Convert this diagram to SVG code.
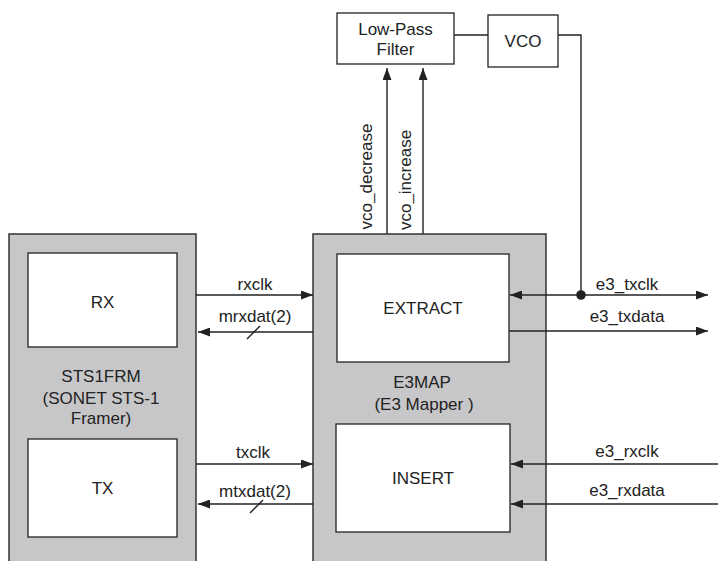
<svg xmlns="http://www.w3.org/2000/svg" width="718" height="561" viewBox="0 0 718 561">
<style>
.bg{fill:#ffffff}
.outer{fill:#c7c7c9;stroke:#333;stroke-width:1.5}
.inner{fill:#ffffff;stroke:#222;stroke-width:1.3}
.box{fill:#ffffff;stroke:#222;stroke-width:1.3}
.ln{fill:none;stroke:#222;stroke-width:1.4}
.arr{fill:none;stroke:#222;stroke-width:1.4;marker-end:url(#ah)}
.arr2{fill:none;stroke:#222;stroke-width:1.4;marker-end:url(#ah);marker-start:url(#ah)}
text{font-family:"Liberation Sans",Arial,Helvetica,sans-serif;font-size:17px;fill:#222;text-anchor:middle}
</style>
<defs>
<marker id="ah" viewBox="0 0 12 9" refX="12" refY="4.5" markerWidth="12" markerHeight="9" markerUnits="userSpaceOnUse" orient="auto-start-reverse">
<path d="M0,0 L12,4.5 L0,9 z" fill="#222"/>
</marker>
</defs>
<rect class="bg" x="0" y="0" width="718" height="561"/>

<g id="lpf">
<rect class="box" x="337" y="13" width="117" height="51"/>
<text x="395.5" y="35">Low-Pass</text>
<text x="395.5" y="55">Filter</text>
</g>

<g id="vco">
<rect class="box" x="488" y="15" width="70" height="52"/>
<text x="523" y="47">VCO</text>
</g>

<g id="sts1frm">
<rect class="outer" x="9" y="234" width="187" height="340"/>
<text x="101" y="382">STS1FRM</text>
<text x="101" y="404">(SONET STS-1</text>
<text x="101" y="424">Framer)</text>
</g>

<g id="rx">
<rect class="inner" x="28" y="253" width="149" height="94"/>
<text x="102.5" y="308">RX</text>
</g>

<g id="tx">
<rect class="inner" x="28" y="439" width="149" height="98"/>
<text x="102.5" y="494">TX</text>
</g>

<g id="e3map">
<rect class="outer" x="313" y="234" width="233" height="340"/>
<text x="422" y="388">E3MAP</text>
<text x="424" y="410">(E3 Mapper )</text>
</g>

<g id="extract">
<rect class="inner" x="337" y="254" width="172" height="108"/>
<text x="423" y="314">EXTRACT</text>
</g>

<g id="insert">
<rect class="inner" x="336" y="424" width="174" height="108"/>
<text x="423" y="484">INSERT</text>
</g>

<g id="connectors">
<line class="ln" x1="454" y1="35" x2="488" y2="35"/>
<polyline class="ln" points="558,35 581,35 581,295"/>
<circle cx="581" cy="295" r="4.8" fill="#222"/>

<line class="arr" x1="387" y1="234" x2="387" y2="68"/>
<line class="arr" x1="423" y1="234" x2="423" y2="68"/>

<line class="arr" x1="196" y1="295" x2="313" y2="295"/>
<line class="arr" x1="313" y1="332" x2="198" y2="332"/>
<line class="ln" x1="247" y1="339" x2="260" y2="326"/>
<line class="arr" x1="196" y1="464" x2="313" y2="464"/>
<line class="arr" x1="313" y1="504" x2="198" y2="504"/>
<line class="ln" x1="250" y1="513" x2="263" y2="500"/>

<line class="arr2" x1="510" y1="295" x2="708" y2="295"/>
<line class="arr" x1="509" y1="331" x2="708" y2="331"/>
<line class="arr" x1="718" y1="464" x2="511" y2="464"/>
<line class="arr" x1="718" y1="504" x2="511" y2="504"/>

<text x="255" y="290">rxclk</text>
<text x="255" y="322">mrxdat(2)</text>
<text x="253" y="458">txclk</text>
<text x="255" y="497">mtxdat(2)</text>
<text x="627" y="290">e3_txclk</text>
<text x="627" y="322">e3_txdata</text>
<text x="627" y="457">e3_rxclk</text>
<text x="627" y="496">e3_rxdata</text>
<text transform="translate(372,176.5) rotate(-90)" x="0" y="0">vco_decrease</text>
<text transform="translate(410.5,180) rotate(-90)" x="0" y="0">vco_increase</text>
</g>
</svg>
